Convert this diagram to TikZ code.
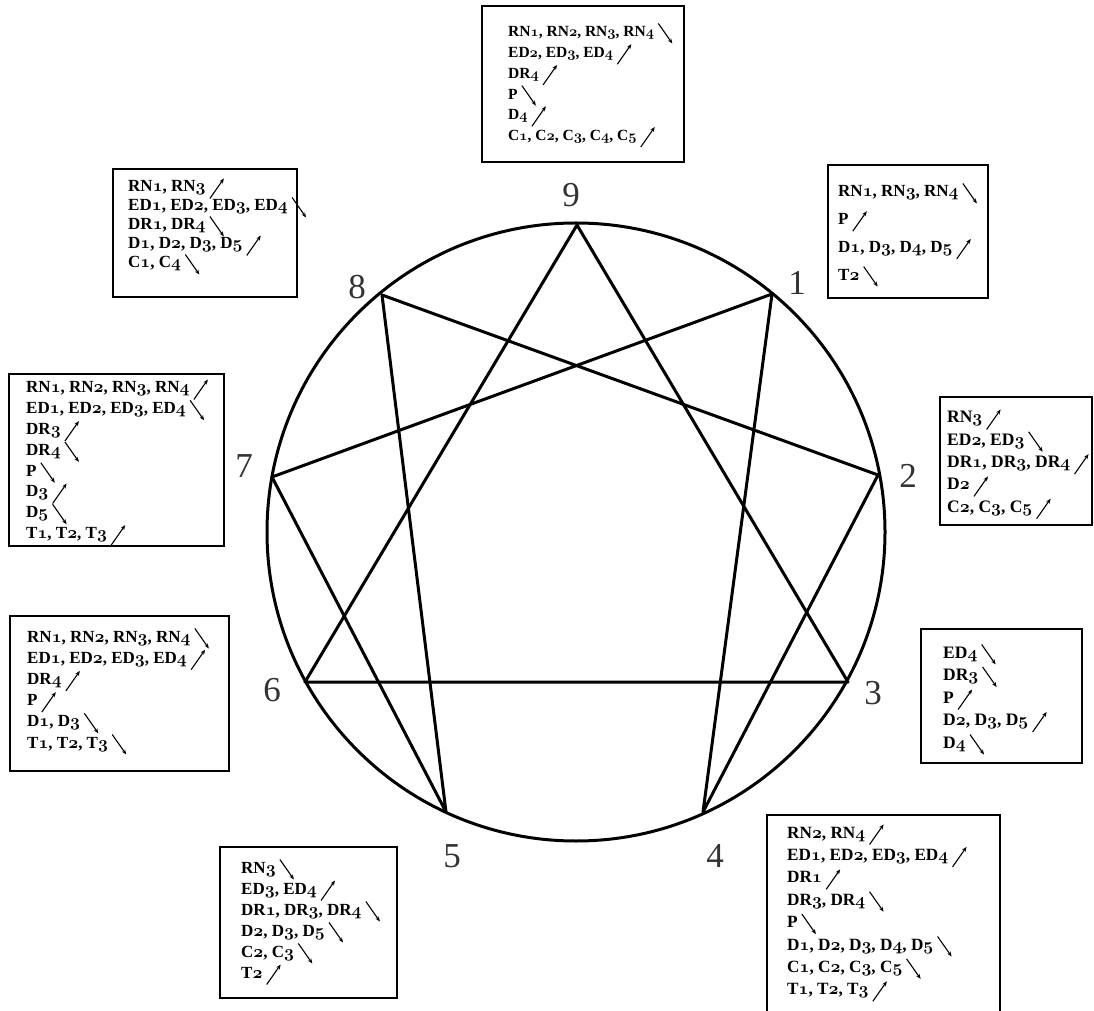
\documentclass[tikz,border=0pt]{standalone}
\usepackage{fontspec}
\setmainfont{Liberation Serif}
\usetikzlibrary{arrows.meta}

\newcommand\od[1]{{\usefont{OML}{cmm}{b}{it}#1}}
\newcommand\boxfont[1]{\fontsize{#1}{#1}\selectfont\bfseries}
\newcommand\rise{1}
\newcommand\fall{-1}
% name, left, first baseline, line step, font size, lines
\newcommand\statebox[6]{%
  \foreach \lab/\s [count=\i] in {#6} {
    \node[txt, font=\boxfont{#5}] (#1-\i) at (#2,{#3-#4*(\i-1)}) {\lab};
    \draw[arr] ([shift={(4,{3.5-10*\s})}]#1-\i.base east) -- ++(14,{20*\s});
  }}

\begin{document}
\begin{tikzpicture}[x=1pt, y=1pt,
  ring/.style={line width=3pt, line join=round},
  frame/.style={line width=2.4pt},
  num/.style={inner sep=0pt, text=black!80, font=\fontsize{35}{35}\selectfont},
  txt/.style={anchor=base west, inner sep=0pt},
  arr/.style={line width=1.1pt, -{Stealth[length=5pt, width=4pt]}}]
\useasboundingbox (0,0) rectangle (1094,1010);
\draw[ring] (576,478) circle (309);
\coordinate (p9) at (577,785);
\coordinate (p1) at (772,716);
\coordinate (p2) at (878,535);
\coordinate (p3) at (848,328);
\coordinate (p4) at (703,198);
\coordinate (p5) at (446,198);
\coordinate (p6) at (305,328);
\coordinate (p7) at (272,533);
\coordinate (p8) at (382,715);
\draw[ring] (p9) -- (p3) -- (p6) -- cycle;
\draw[ring] (p1) -- (p4) -- (p2) -- (p8) -- (p5) -- (p7) -- cycle;
\node[num] (n9) at (571,815) {9};
\node[num] (n1) at (797,727) {1};
\node[num] (n2) at (908,534) {2};
\node[num] (n3) at (873,317) {3};
\node[num] (n4) at (715,154) {4};
\node[num] (n5) at (452,154) {5};
\node[num] (n6) at (272,320) {6};
\node[num] (n7) at (244,544) {7};
\node[num] (n8) at (357,723) {8};
% boxes
\draw[frame] (482,1004) rectangle (684,848);
\statebox{b9}{508}{973}{20.7}{15.5}{{RN\od1, RN\od2, RN\od3, RN\od4}/\fall, {ED\od2, ED\od3, ED\od4}/\rise,
  {DR\od4}/\rise, {P}/\fall, {D\od4}/\rise, {C\od1, C\od2, C\od3, C\od4, C\od5}/\rise}
\draw[frame] (113,841) rectangle (297,713);
\statebox{b8}{128}{818}{19}{17}{{RN\od1, RN\od3}/\rise, {ED\od1, ED\od2, ED\od3, ED\od4}/\fall,
  {DR\od1, DR\od4}/\fall, {D\od1, D\od2, D\od3, D\od5}/\rise, {C\od1, C\od4}/\fall}
\draw[frame] (828,845) rectangle (988,712);
\statebox{b1}{838}{813}{27.7}{17}{{RN\od1, RN\od3, RN\od4}/\fall, {P}/\rise,
  {D\od1, D\od3, D\od4, D\od5}/\rise, {T\od2}/\fall}
\draw[frame] (9,636) rectangle (224,464);
\statebox{b7}{26}{617}{20.8}{17}{{RN\od1, RN\od2, RN\od3, RN\od4}/\rise, {ED\od1, ED\od2, ED\od3, ED\od4}/\fall,
  {DR\od3}/\rise, {DR\od4}/\fall, {P}/\fall, {D\od3}/\rise, {D\od5}/\fall, {T\od1, T\od2, T\od3}/\rise}
\draw[frame] (940,613) rectangle (1092,485);
\statebox{b2}{947}{587}{22.3}{17.5}{{RN\od3}/\rise, {ED\od2, ED\od3}/\fall,
  {DR\od1, DR\od3, DR\od4}/\rise, {D\od2}/\rise, {C\od2, C\od3, C\od5}/\rise}
\draw[frame] (921,381) rectangle (1082,247);
\statebox{b3}{943}{352}{22.5}{17.5}{{ED\od4}/\fall, {DR\od3}/\fall, {P}/\rise,
  {D\od2, D\od3, D\od5}/\rise, {D\od4}/\fall}
\draw[frame] (10,394) rectangle (229,239);
\statebox{b6}{27}{368}{21.2}{17}{{RN\od1, RN\od2, RN\od3, RN\od4}/\fall, {ED\od1, ED\od2, ED\od3, ED\od4}/\rise,
  {DR\od4}/\rise, {P}/\rise, {D\od1, D\od3}/\fall, {T\od1, T\od2, T\od3}/\fall}
\draw[frame] (220,163) rectangle (397,12);
\statebox{b5}{241}{137}{21}{17}{{RN\od3}/\fall, {ED\od3, ED\od4}/\rise, {DR\od1, DR\od3, DR\od4}/\fall,
  {D\od2, D\od3, D\od5}/\fall, {C\od2, C\od3}/\fall, {T\od2}/\rise}
\draw[frame] (767,195) rectangle (1000,-10);
\statebox{b4}{787}{172}{22.4}{17.2}{{RN\od2, RN\od4}/\rise, {ED\od1, ED\od2, ED\od3, ED\od4}/\rise,
  {DR\od1}/\rise, {DR\od3, DR\od4}/\fall, {P}/\fall, {D\od1, D\od2, D\od3, D\od4, D\od5}/\fall,
  {C\od1, C\od2, C\od3, C\od5}/\fall, {T\od1, T\od2, T\od3}/\rise}
\end{tikzpicture}
\end{document}
